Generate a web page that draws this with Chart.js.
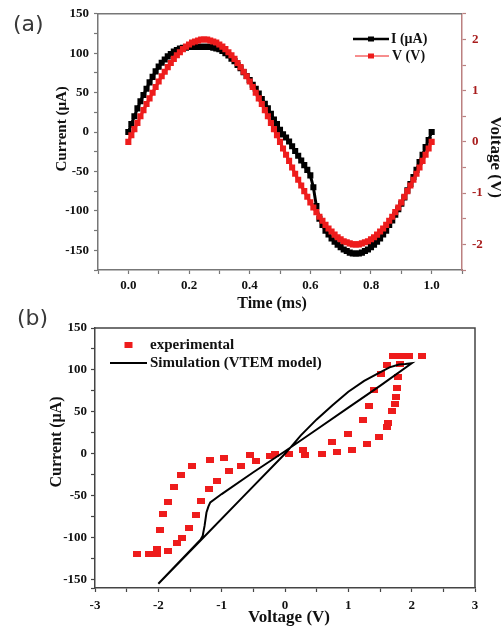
<!DOCTYPE html>
<html><head><meta charset="utf-8">
<script src="https://cdn.jsdelivr.net/npm/chart.js@4/dist/chart.umd.min.js"></script>
<style>
html,body{margin:0;padding:0;background:#fff;width:501px;height:628px;overflow:hidden;position:relative}
canvas{position:absolute;left:0}
#ca{top:0}
#cb{top:300px}
.tag{position:absolute;font-family:"DejaVu Sans",sans-serif;font-size:22px;line-height:1;color:#3a3a3a}
</style></head><body>
<canvas id="cb" width="501" height="328"></canvas>
<canvas id="ca" width="501" height="313"></canvas>
<div class="tag" style="left:13px;top:13px">(a)</div>
<div class="tag" style="left:17px;top:307px">(b)</div>
<script>
// ---------- (a) time series ----------
const timeMs = [0.00,0.01,0.02,0.03,0.04,0.05,0.06,0.07,0.08,0.09,0.10,0.11,0.12,0.13,0.14,0.15,0.16,0.17,0.18,0.19,0.20,0.21,0.22,0.23,0.24,0.25,0.26,0.27,0.28,0.29,0.30,0.31,0.32,0.33,0.34,0.35,0.36,0.37,0.38,0.39,0.40,0.41,0.42,0.43,0.44,0.45,0.46,0.47,0.48,0.49,0.50,0.51,0.52,0.53,0.54,0.55,0.56,0.57,0.58,0.59,0.60,0.61,0.62,0.63,0.64,0.65,0.66,0.67,0.68,0.69,0.70,0.71,0.72,0.73,0.74,0.75,0.76,0.77,0.78,0.79,0.80,0.81,0.82,0.83,0.84,0.85,0.86,0.87,0.88,0.89,0.90,0.91,0.92,0.93,0.94,0.95,0.96,0.97,0.98,0.99,1.00];
const currentUA = [0,10,20,30,39,47,55,63,70,77,83,88,92,96,99,102,104,106,107,107,108,108,108,108,108,108,108,108,107,106,105,103,100,97,93,90,85,81,76,71,66,60,55,49,42,36,30,23,16,10,3,-3,-7,-12,-18,-24,-30,-36,-42,-48,-55,-70,-94,-110,-118,-125,-130,-135,-139,-143,-146,-149,-151,-153,-154,-154,-154,-153,-151,-149,-146,-143,-139,-135,-130,-125,-118,-112,-105,-98,-91,-83,-74,-66,-57,-48,-38,-29,-19,-10,0];
const voltageV = [0.00,0.13,0.25,0.37,0.50,0.62,0.74,0.85,0.96,1.07,1.18,1.28,1.37,1.46,1.54,1.62,1.69,1.75,1.81,1.86,1.90,1.94,1.96,1.98,2.00,2.00,2.00,1.98,1.96,1.94,1.90,1.86,1.81,1.75,1.69,1.62,1.54,1.46,1.37,1.28,1.18,1.07,0.96,0.85,0.74,0.62,0.50,0.37,0.25,0.13,0.00,-0.13,-0.25,-0.37,-0.50,-0.62,-0.74,-0.85,-0.96,-1.07,-1.18,-1.28,-1.37,-1.46,-1.54,-1.62,-1.69,-1.75,-1.81,-1.86,-1.90,-1.94,-1.96,-1.98,-2.00,-2.00,-2.00,-1.98,-1.96,-1.94,-1.90,-1.86,-1.81,-1.75,-1.69,-1.62,-1.54,-1.46,-1.37,-1.28,-1.18,-1.07,-0.96,-0.85,-0.74,-0.62,-0.50,-0.37,-0.25,-0.13,0.00];

const timeAxisTicks = [-0.1,0,0.1,0.2,0.3,0.4,0.5,0.6,0.7,0.8,0.9,1.0,1.1];
const timeLabelTicks = [0,0.2,0.4,0.6,0.8,1.0];
const currentAxisTicksA = [-175,-150,-125,-100,-75,-50,-25,0,25,50,75,100,125,150];
const currentLabelTicksA = [-150,-100,-50,0,50,100,150];
const voltAxisTicksA = [-2.5,-2,-1.5,-1,-0.5,0,0.5,1,1.5,2,2.5];
const voltLabelTicksA = [-2,-1,0,1,2];

// ---------- (b) I-V loop ----------
const expV = [-2.34,-2.15,-2.02,-2.02,-1.84,-1.71,-1.62,-1.52,-1.41,-1.32,-1.20,-1.07,-0.89,-0.70,-0.46,-0.24,-0.16,0.07,0.31,0.59,0.82,1.05,1.29,1.48,1.61,1.62,1.69,1.73,1.76,1.77,1.78,1.81,1.83,1.95,2.16,1.70,1.61,1.51,1.41,1.33,1.23,0.99,0.74,0.28,-0.55,-0.97,-1.19,-1.47,-1.65,-1.76,-1.85,-1.93,-1.97];
const expI = [-120,-120,-113,-120,-116,-106,-100,-88,-73,-56,-42,-32,-21,-15,-8,-3,0,0,-1,0,2,4,12,20,32,37,51,59,68,78,92,107,117,117,117,117,106,95,76,57,40,24,14,4,-1,-5,-7,-14,-25,-40,-57,-72,-91];
const simV = [0,0.25,0.5,0.75,1.0,1.25,1.5,1.65,1.8,1.9,2.0,1.5,1.0,0.5,0,-0.5,-1.0,-1.18,-1.21,-1.24,-1.27,-1.30,-1.33,-2.0,-1.33,-0.66,0];
const simI = [0,22,41,58,74,87,97,103,106.5,107,108,81,55,29,3,-22,-48,-58,-63,-70,-86,-98,-102,-155,-103,-51,0];

const voltAxisTicksB = [-3,-2.5,-2,-1.5,-1,-0.5,0,0.5,1,1.5,2,2.5,3];
const voltLabelTicksB = [-3,-2,-1,0,1,2,3];
const currentAxisTicksB = [-160,-150,-125,-100,-75,-50,-25,0,25,50,75,100,125,150];
const currentLabelTicksB = [-150,-100,-50,0,50,100,150];

// ---------- helpers ----------
const SERIF = '"Liberation Serif","Times New Roman",serif';
const RED = '#ee1c1c';
Chart.defaults.font.family = SERIF;
const toPts = (xs, ys) => xs.map((x, i) => ({x: x, y: ys[i]}));
const fixedTicks = vals => s => { s.ticks = vals.map(v => ({value: v})); };
const labelIf = (list, fmt) => v => list.some(l => Math.abs(l - v) < 1e-9) ? fmt(v) : '';
const axisLook = (lineColor, labelColor, size, pad) => ({
  grid: {display: true, drawOnChartArea: false, drawTicks: true, tickLength: 4, color: lineColor, tickColor: lineColor, tickWidth: 1.2},
  border: {display: true, color: lineColor, width: 1.5},
  ticks: {autoSkip: false, maxRotation: 0, minRotation: 0, padding: pad, color: labelColor, font: {size: size, weight: 'bold', family: SERIF}}
});
function merge(a, b) { const o = Object.assign({}, a); for (const k in b) { o[k] = (typeof b[k] === 'object' && !Array.isArray(b[k]) && typeof b[k] !== 'function' && a[k]) ? Object.assign({}, a[k], b[k]) : b[k]; } return o; }
function rotText(ctx, txt, x, y, ang, font, color) {
  ctx.save(); ctx.translate(x, y); ctx.rotate(ang); ctx.font = font; ctx.fillStyle = color;
  ctx.textAlign = 'center'; ctx.textBaseline = 'middle'; ctx.fillText(txt, 0, 0); ctx.restore();
}

// ---------- chart (a) ----------
const decorA = {id: 'decorA', afterDraw(chart) {
  const ctx = chart.ctx, ca = chart.chartArea;
  ctx.save();
  ctx.strokeStyle = '#777'; ctx.lineWidth = 1.5;
  ctx.beginPath(); ctx.moveTo(ca.left, ca.top); ctx.lineTo(ca.right, ca.top); ctx.stroke();
  rotText(ctx, 'Time (ms)', (ca.left + ca.right) / 2 - 8, 304, 0, 'bold 16px ' + SERIF, '#111');
  rotText(ctx, 'Current (μA)', 62, (ca.top + ca.bottom) / 2 - 13, -Math.PI / 2, 'bold 15px ' + SERIF, '#111');
  rotText(ctx, 'Voltage (V)', 495, (ca.top + ca.bottom) / 2 + 15, Math.PI / 2, 'bold 17px ' + SERIF, '#111');
  ctx.strokeStyle = '#000'; ctx.lineWidth = 2.5;
  ctx.beginPath(); ctx.moveTo(353, 39); ctx.lineTo(389, 39); ctx.stroke();
  ctx.fillStyle = '#000'; ctx.fillRect(368, 36.5, 6, 5);
  ctx.strokeStyle = RED; ctx.lineWidth = 1;
  ctx.beginPath(); ctx.moveTo(355, 56); ctx.lineTo(389, 56); ctx.stroke();
  ctx.fillStyle = RED; ctx.fillRect(368, 53.5, 6, 5);
  ctx.font = 'bold 14px ' + SERIF; ctx.fillStyle = '#111'; ctx.textAlign = 'left'; ctx.textBaseline = 'middle';
  ctx.fillText('I (μA)', 391, 39);
  ctx.fillText('V (V)', 392, 56);
  ctx.restore();
}};

new Chart(document.getElementById('ca'), {
  type: 'scatter',
  data: {datasets: [
    {label: 'V (V)', data: toPts(timeMs, voltageV), yAxisID: 'yV', showLine: true, borderColor: RED, borderWidth: 3,
     pointStyle: 'rect', pointRadius: 4.3, pointBackgroundColor: RED, pointBorderWidth: 0},
    {label: 'I (μA)', data: toPts(timeMs, currentUA), yAxisID: 'yI', showLine: true, borderColor: '#000', borderWidth: 3,
     pointStyle: 'rect', pointRadius: 4.3, pointBackgroundColor: '#000', pointBorderWidth: 0}
  ]},
  options: {
    responsive: false, animation: false, devicePixelRatio: 1,
    layout: {padding: {top: 10, left: 0, right: 0, bottom: 0}},
    plugins: {legend: {display: false}, tooltip: {enabled: false}},
    scales: {
      x: merge(axisLook('#777', '#111', 13, 4), {type: 'linear', position: 'bottom', min: -0.1, max: 1.1,
        afterBuildTicks: fixedTicks(timeAxisTicks), afterFit: s => { s.height = 43; },
        ticks: {callback: labelIf(timeLabelTicks, v => v.toFixed(1))}}),
      yI: merge(axisLook('#777', '#111', 13, 5), {type: 'linear', position: 'left', min: -175, max: 150,
        afterBuildTicks: fixedTicks(currentAxisTicksA), afterFit: s => { s.width = 98; },
        ticks: {callback: labelIf(currentLabelTicksA, v => String(Math.round(v)))}}),
      yV: merge(axisLook('#bb8080', '#a81c1c', 13, 6), {type: 'linear', position: 'right', min: -2.5, max: 2.5,
        afterBuildTicks: fixedTicks(voltAxisTicksA), afterFit: s => { s.width = 39; },
        ticks: {callback: labelIf(voltLabelTicksA, v => String(Math.round(v)))}})
    }
  },
  plugins: [decorA]
});

// ---------- chart (b) ----------
const decorB = {id: 'decorB', afterDraw(chart) {
  const ctx = chart.ctx, ca = chart.chartArea;
  ctx.save();
  ctx.strokeStyle = '#444'; ctx.lineWidth = 1.5;
  ctx.beginPath(); ctx.moveTo(ca.left, ca.top); ctx.lineTo(ca.right, ca.top); ctx.lineTo(ca.right, ca.bottom); ctx.stroke();
  rotText(ctx, 'Voltage (V)', (ca.left + ca.right) / 2 + 4, 318, 0, 'bold 17px ' + SERIF, '#111');
  rotText(ctx, 'Current (μA)', 57, (ca.top + ca.bottom) / 2 - 16, -Math.PI / 2, 'bold 16px ' + SERIF, '#111');
  ctx.fillStyle = RED; ctx.fillRect(124.5, 42, 8, 6);
  ctx.strokeStyle = '#000'; ctx.lineWidth = 2;
  ctx.beginPath(); ctx.moveTo(110, 63); ctx.lineTo(147, 63); ctx.stroke();
  ctx.font = 'bold 15px ' + SERIF; ctx.fillStyle = '#111'; ctx.textAlign = 'left'; ctx.textBaseline = 'middle';
  ctx.fillText('experimental', 150, 45);
  ctx.fillText('Simulation (VTEM model)', 150, 63);
  ctx.restore();
}};

const expMarker = document.createElement('canvas');
expMarker.width = 8; expMarker.height = 6;
(function(){ const c = expMarker.getContext('2d'); c.fillStyle = RED; c.fillRect(0, 0, 8, 6); })();

new Chart(document.getElementById('cb'), {
  type: 'scatter',
  data: {datasets: [
    {label: 'Simulation (VTEM model)', data: toPts(simV, simI), showLine: true, borderColor: '#000', borderWidth: 2,
     pointRadius: 0, tension: 0},
    {label: 'experimental', data: toPts(expV, expI), showLine: false, pointStyle: expMarker, pointRadius: 4,
     pointBackgroundColor: RED, pointBorderWidth: 0}
  ]},
  options: {
    responsive: false, animation: false, devicePixelRatio: 1,
    layout: {padding: {top: 28, left: 0, right: 26, bottom: 0}},
    plugins: {legend: {display: false}, tooltip: {enabled: false}},
    scales: {
      x: merge(axisLook('#444', '#111', 13, 6), {type: 'linear', position: 'bottom', min: -3, max: 3,
        afterBuildTicks: fixedTicks(voltAxisTicksB), afterFit: s => { s.height = 40; },
        ticks: {callback: labelIf(voltLabelTicksB, v => String(Math.round(v)))}}),
      y: merge(axisLook('#444', '#111', 13, 4), {type: 'linear', position: 'left', min: -160, max: 150,
        afterBuildTicks: fixedTicks(currentAxisTicksB), afterFit: s => { s.width = 95; },
        ticks: {callback: labelIf(currentLabelTicksB, v => String(Math.round(v)))}})
    }
  },
  plugins: [decorB]
});
</script>
</body></html>
